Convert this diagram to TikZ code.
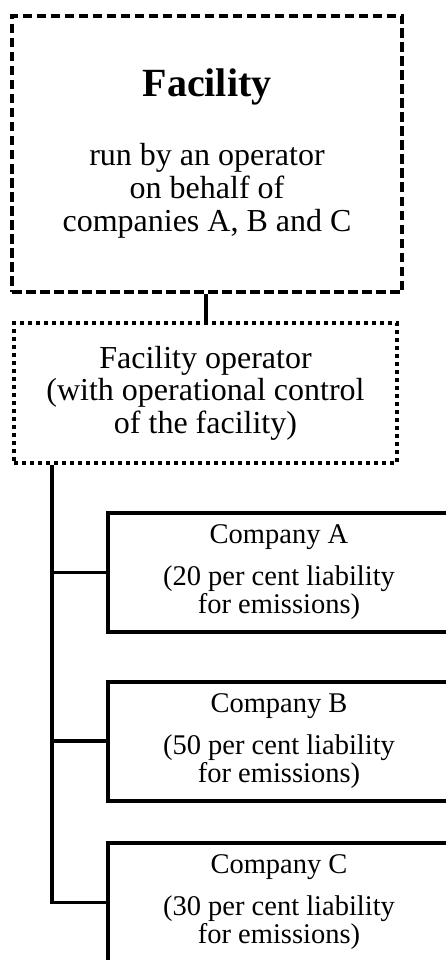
\documentclass[tikz,border=0pt]{standalone}
\usepackage{fontspec}
\setmainfont{Liberation Serif}
\begin{document}
\begin{tikzpicture}[x=1pt,y=-1pt,
  facbox/.style={draw=black, line width=4pt, dash pattern=on 9.5pt off 4.5pt,
    rectangle, align=center, inner sep=0pt,
    font=\fontsize{32}{33}\selectfont},
  opbox/.style={draw=black, line width=3.5pt, dash pattern=on 4pt off 4pt,
    rectangle, align=center, inner sep=0pt,
    font=\fontsize{32}{32.5}\selectfont},
  cobox/.style={draw=black, line width=4pt, rectangle, align=center,
    inner sep=0pt, minimum width=342pt, minimum height=119pt,
    font=\fontsize{28.5}{28}\selectfont},
  link/.style={draw=black, line width=3.5pt}]
\useasboundingbox (0,0) rectangle (446,960);
\clip (0,0) rectangle (446,960);

% the facility and its operator
\node[facbox, minimum width=390pt, minimum height=276pt] (fac) at (207,154)
  {{\fontsize{40}{40}\selectfont\bfseries Facility}\\[36pt]
   run by an operator\\on behalf of\\companies A, B and C};
\node[opbox, minimum width=383pt, minimum height=140pt] (op) at (205.5,393)
  {Facility operator\\(with operational control\\of the facility)};

% the three companies
\node[cobox] (ca) at (279,572.5)
  {Company A\\[14pt](20 per cent liability\\for emissions)};
\node[cobox] (cb) at (279,741)
  {Company B\\[14pt](50 per cent liability\\for emissions)};
\node[cobox] (cc) at (279,902.5)
  {Company C\\[14pt](30 per cent liability\\for emissions)};

% connectors
\coordinate (tk) at (52,0);
\draw[link, line width=4pt] (op.north |- fac.south) -- (op.north);
\draw[link] (tk |- op.south) |- (cc.west);
\draw[link] (tk |- ca.west) -- (ca.west);
\draw[link] (tk |- cb.west) -- (cb.west);
\end{tikzpicture}
\end{document}
